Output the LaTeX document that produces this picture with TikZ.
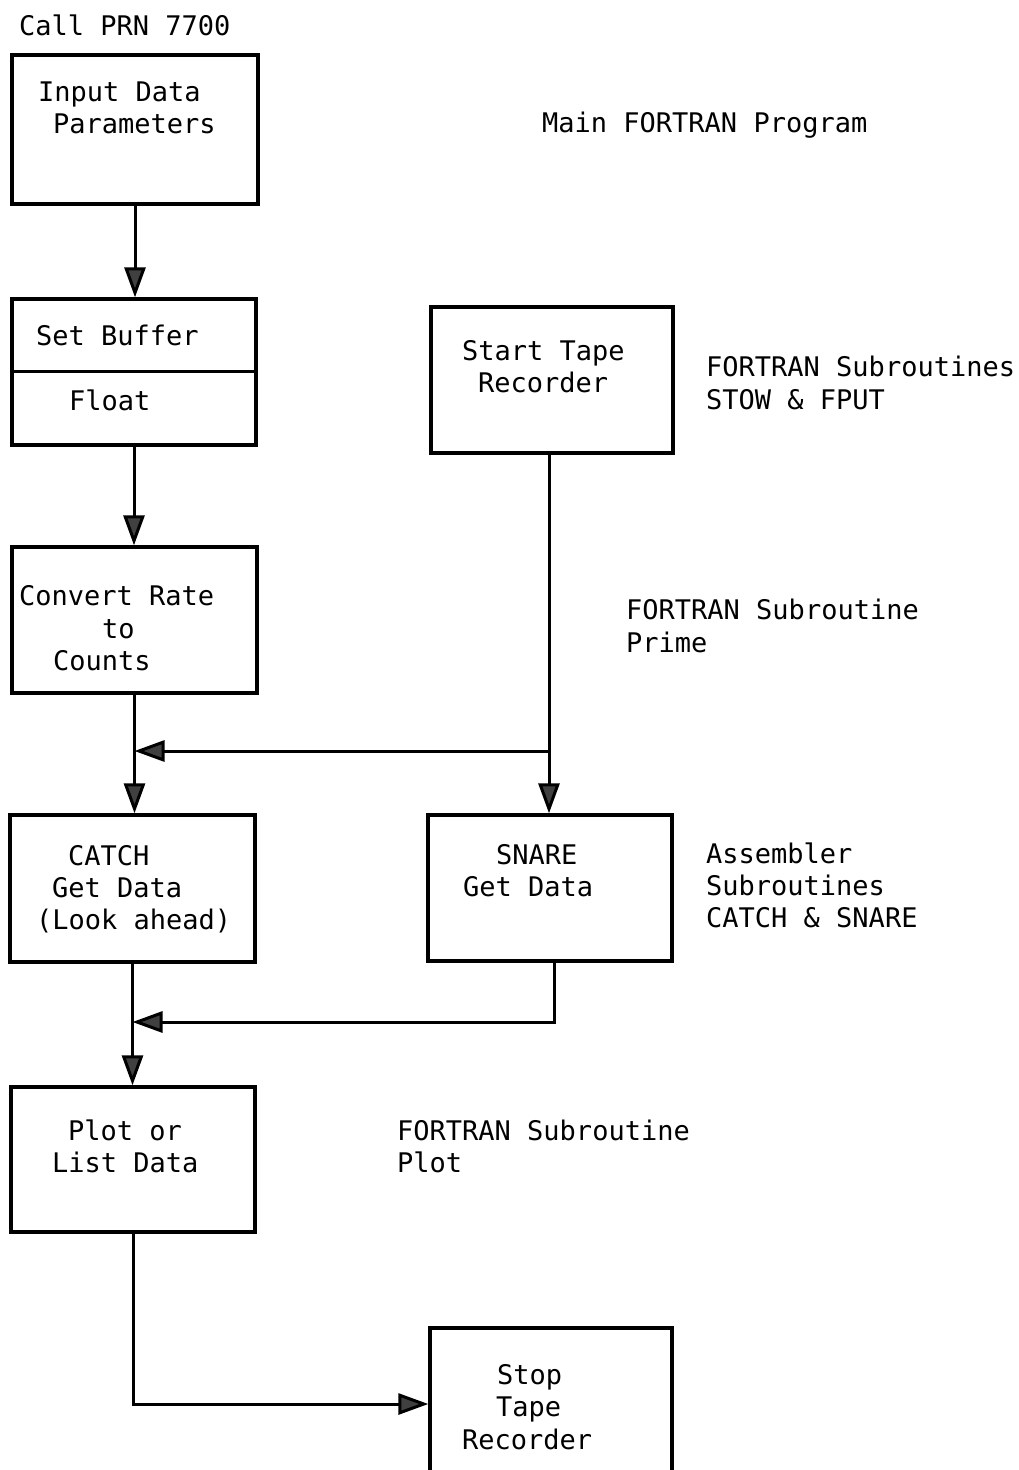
\documentclass[tikz,border=0pt]{standalone}
\usepackage{fontspec}
\newfontfamily\typew{DejaVu Sans Mono}
\usetikzlibrary{arrows.meta}
\begin{document}
\begin{tikzpicture}[x=1pt,y=-1pt,
  box/.style={draw, line width=3.4pt, inner sep=0pt},
  lbl/.style={anchor=base west, inner sep=0pt, font=\typew\fontsize{27}{32}\selectfont},
  conn/.style={line width=3pt},
  tip/.style={-{Triangle[width=21pt,length=30pt,fill=black!75]}}
]
\useasboundingbox (0,0) rectangle (1018,1470);
\fill[white] (0,0) rectangle (1018,1470);

% boxes
\node[box, minimum width=246pt, minimum height=149pt] (b1) at (135,129.5) {};
\node[box, minimum width=244pt, minimum height=146pt] (b2) at (134,372) {};
\node[box, minimum width=245pt, minimum height=146pt] (b3) at (134.5,620) {};
\node[box, minimum width=245pt, minimum height=147pt] (b4) at (132.5,888.5) {};
\node[box, minimum width=244pt, minimum height=146pt] (b5) at (550,888) {};
\node[box, minimum width=242pt, minimum height=146pt] (b6) at (552,380) {};
\node[box, minimum width=244pt, minimum height=145pt] (b7) at (133,1159.5) {};
\node[box, minimum width=242pt, minimum height=152pt] (b8) at (551,1404) {};

\coordinate (d2) at (0,371);
\draw[line width=3pt] (b2.west |- d2) -- (b2.east |- d2);

% connectors
\coordinate (j1) at (549,751);
\coordinate (j2) at (0,1022);
\draw[conn,tip] (b1.south) -- (b1.south |- b2.north);
\draw[conn,tip] (b2.south) -- (b2.south |- b3.north);
\draw[conn,tip] (b3.south) -- (b3.south |- b4.north);
\draw[conn,tip] (b6.south -| j1) -- (j1 |- b5.north);
\draw[conn,tip] (j1) -- (j1 -| b3.south);
\coordinate (s5) at (554,961);
\draw[conn,tip] (s5) |- (b4.south |- j2);
\draw[conn,tip] (b4.south) -- (b4.south |- b7.north);
\draw[conn,tip] (b7.south) |- (b8.west);

% texts
\node[lbl] (t0) at (19,35) {Call PRN 7700};
\node[lbl] (t1a) at (38,101) {Input Data};
\node[lbl] (t1b) at (53,133) {Parameters};
\node[lbl] (tm) at (542,132) {Main FORTRAN Program};
\node[lbl] (t2a) at (36,345) {Set Buffer};
\node[lbl] (t2b) at (69,410) {Float};
\node[lbl] (t6a) at (462,360) {Start Tape};
\node[lbl] (t6b) at (478,392) {Recorder};
\node[lbl] (ts1) at (706,376) {FORTRAN Subroutines};
\node[lbl] (ts2) at (706,409) {STOW \& FPUT};
\node[lbl] (t3a) at (19,605) {Convert Rate};
\node[lbl] (t3b) at (102,638) {to};
\node[lbl] (t3c) at (53,670) {Counts};
\node[lbl] (tp1) at (626,619) {FORTRAN Subroutine};
\node[lbl] (tp2) at (626,652) {Prime};
\node[lbl] (t4a) at (68,865) {CATCH};
\node[lbl] (t4b) at (52,897) {Get Data};
\node[lbl] (t4c) at (36,929) {(Look ahead)};
\node[lbl] (t5a) at (496,864) {SNARE};
\node[lbl] (t5b) at (463,896) {Get Data};
\node[lbl] (ta1) at (706,863) {Assembler};
\node[lbl] (ta2) at (706,895) {Subroutines};
\node[lbl] (ta3) at (706,927) {CATCH \& SNARE};
\node[lbl] (t7a) at (68,1140) {Plot or};
\node[lbl] (t7b) at (52,1172) {List Data};
\node[lbl] (tq1) at (397,1140) {FORTRAN Subroutine};
\node[lbl] (tq2) at (397,1172) {Plot};
\node[lbl] (t8a) at (497,1384) {Stop};
\node[lbl] (t8b) at (496,1416) {Tape};
\node[lbl] (t8c) at (462,1449) {Recorder};
\end{tikzpicture}
\end{document}
